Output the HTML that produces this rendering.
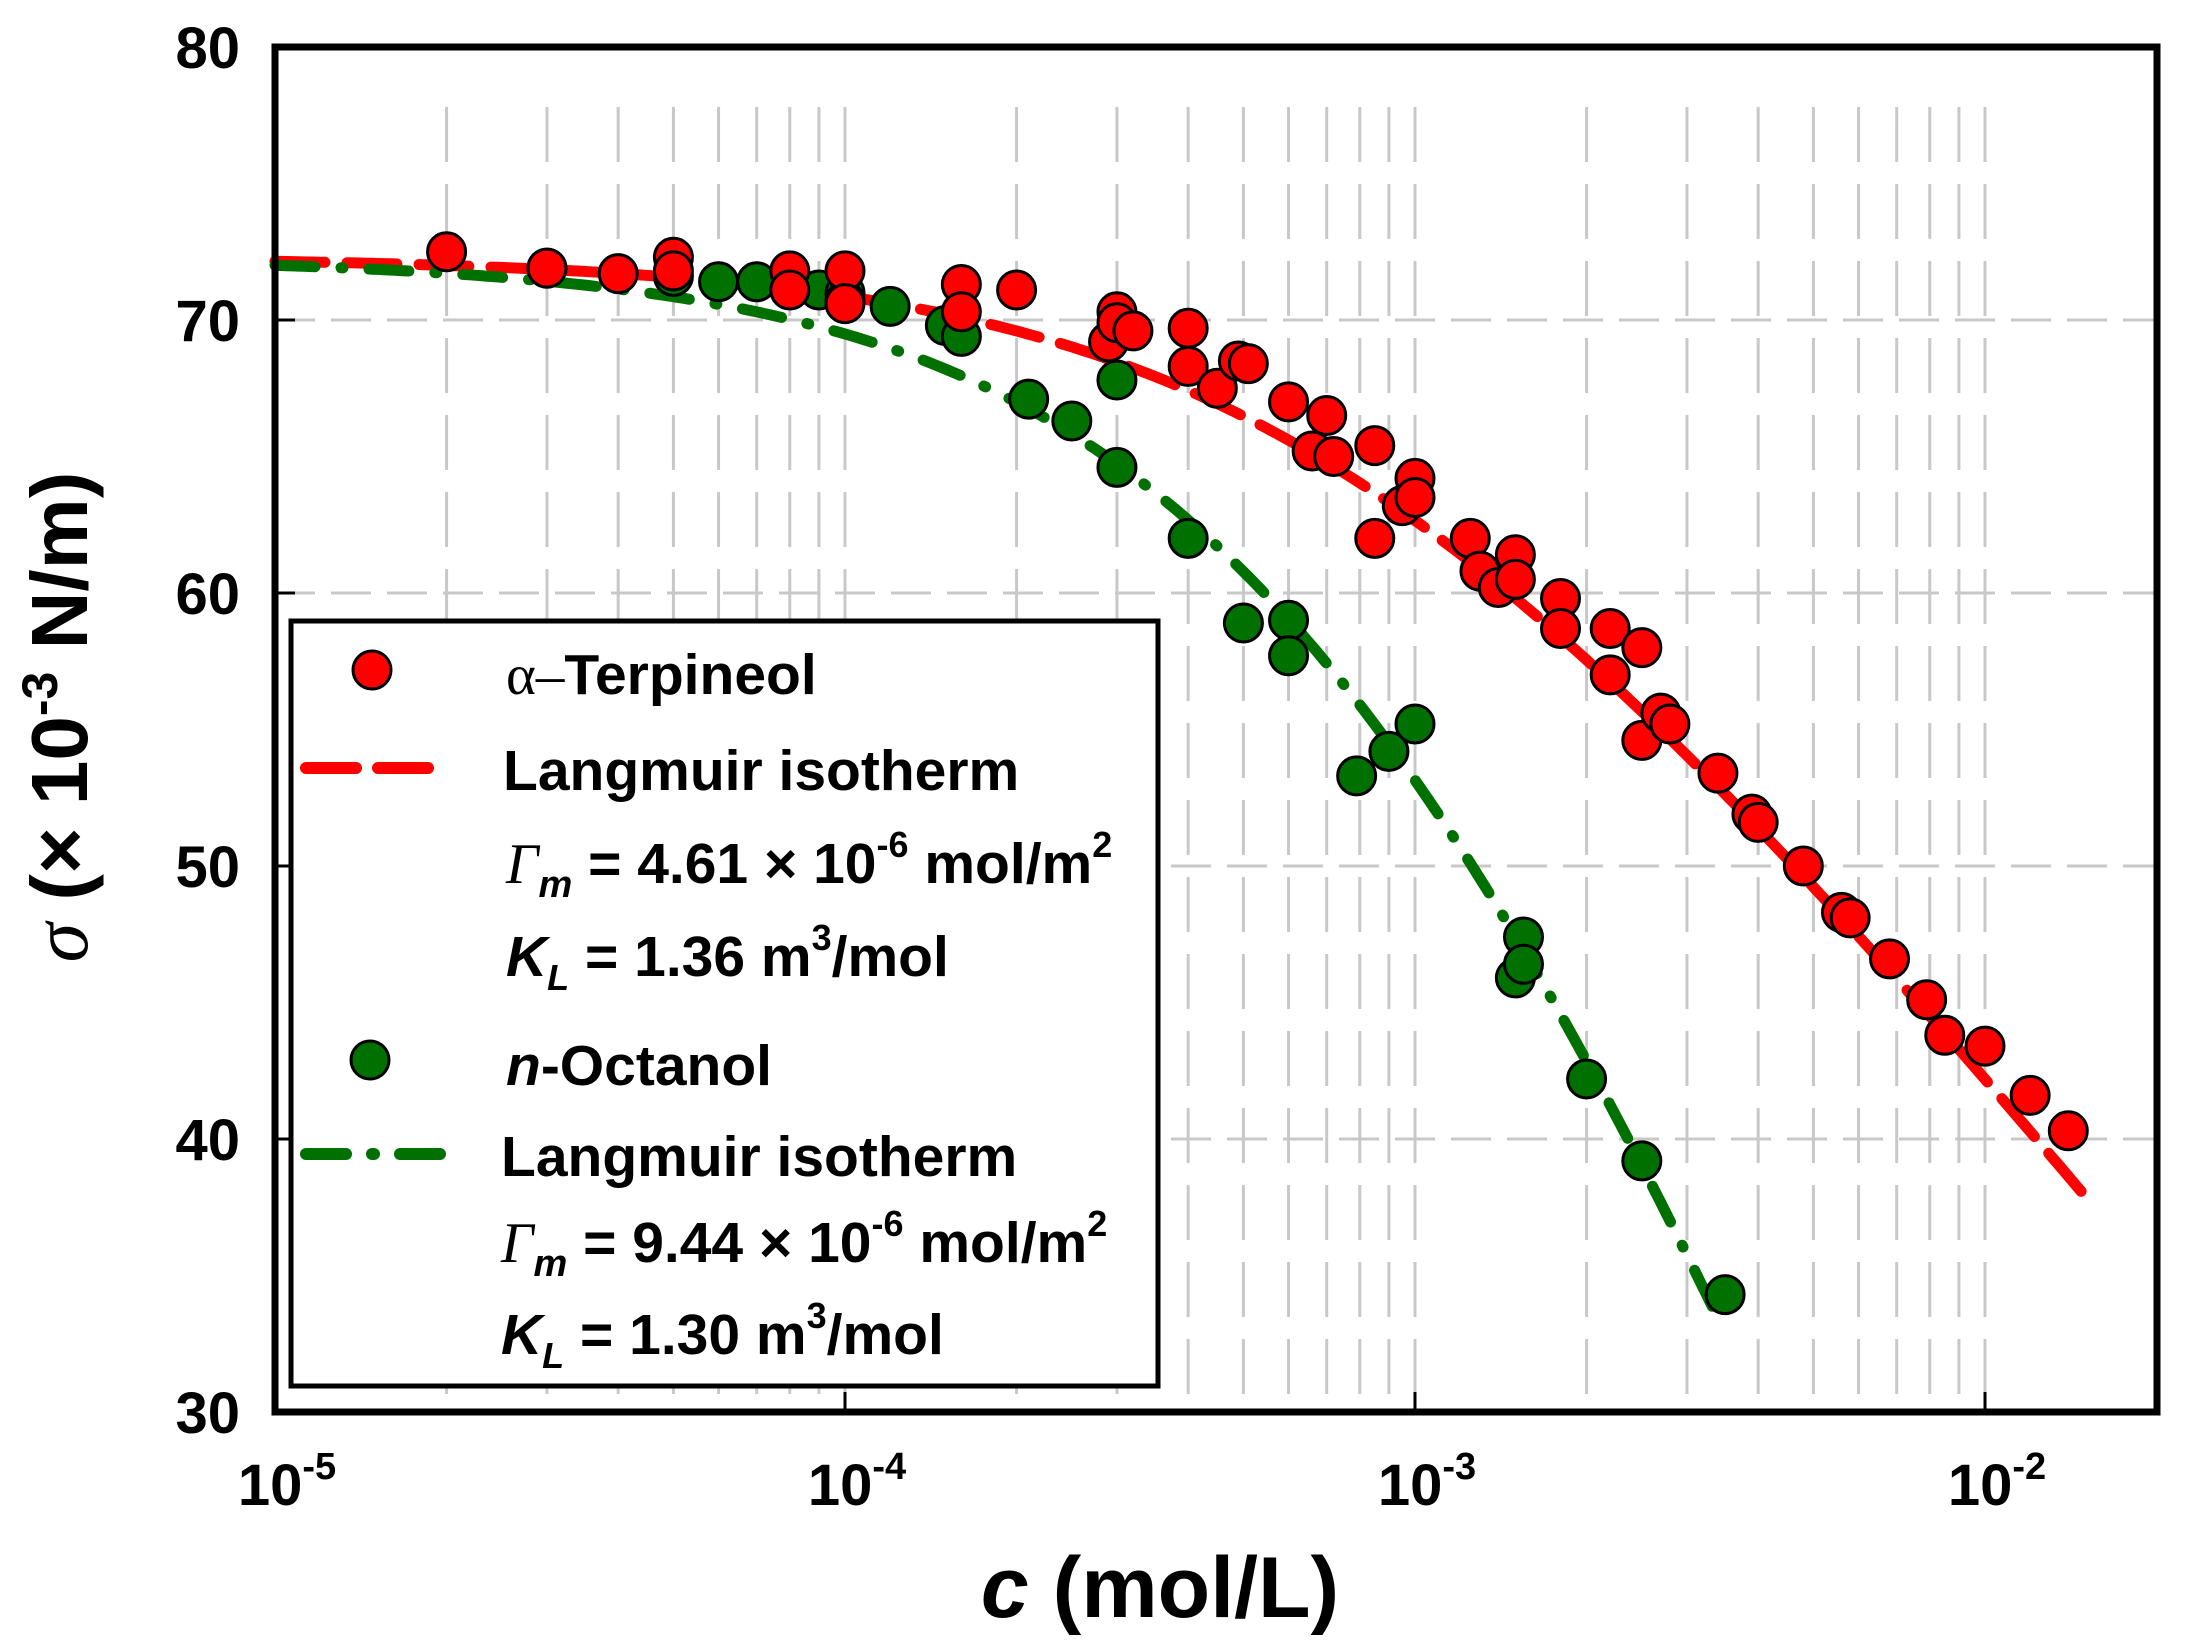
<!DOCTYPE html>
<html><head><meta charset="utf-8"><style>
html,body{margin:0;padding:0;background:#fff}
svg{display:block}
text{font-family:"Liberation Sans",sans-serif;font-weight:bold;fill:#000}
</style></head><body>
<svg id="chart" width="2192" height="1644" viewBox="0 0 2192 1644">
<g id="grid"></g>
<g id="curves"></g>
<g id="points"></g>
<rect x="275" y="47" width="1882" height="1365" fill="none" stroke="#000" stroke-width="7"/>
<g id="ticks"></g>
<text x="87" y="717" font-size="80" text-anchor="middle" transform="rotate(-90 87 717)"><tspan font-style="italic" font-weight="normal" font-family="Liberation Serif, serif">σ</tspan>  (× 10<tspan dy="-30" font-size="50">-3</tspan><tspan dy="30"> N/m)</tspan></text>
<text x="1160" y="1617" font-size="86" text-anchor="middle"><tspan font-style="italic">c</tspan>  (mol/L)</text>
<g>
<rect x="291" y="621" width="867" height="765" fill="#fff" stroke="#000" stroke-width="5"/>
<circle cx="372" cy="670" r="19" fill="#f00" stroke="#000" stroke-width="3"/>
<text x="506" y="694" font-size="57"><tspan font-weight="normal" font-family="Liberation Serif, serif">α–</tspan>Terpineol</text>
<line x1="306" y1="768" x2="448" y2="768" stroke="#f00" stroke-width="12" stroke-dasharray="50,22" stroke-linecap="round"/>
<text x="503" y="790" font-size="57">Langmuir isotherm</text>
<text x="506" y="883" font-size="57"><tspan font-style="italic" font-weight="normal" font-family="Liberation Serif, serif">Γ</tspan><tspan font-style="italic" font-size="38" dy="14">m</tspan><tspan dy="-14"> = 4.61 × 10</tspan><tspan font-size="36" dy="-26">-6</tspan><tspan dy="26"> mol/m</tspan><tspan font-size="36" dy="-26">2</tspan></text>
<text x="506" y="976" font-size="57"><tspan font-style="italic">K</tspan><tspan font-style="italic" font-size="36" dy="14">L</tspan><tspan dy="-14"> = 1.36 m</tspan><tspan font-size="36" dy="-26">3</tspan><tspan dy="26">/mol</tspan></text>
<circle cx="370" cy="1060" r="19" fill="#007000" stroke="#000" stroke-width="3"/>
<text x="506" y="1085" font-size="57"><tspan font-style="italic">n</tspan>-Octanol</text>
<line x1="306" y1="1154" x2="452" y2="1154" stroke="#007000" stroke-width="12" stroke-dasharray="40,26,2,26" stroke-linecap="round"/>
<text x="501" y="1176" font-size="57">Langmuir isotherm</text>
<text x="501" y="1262" font-size="57"><tspan font-style="italic" font-weight="normal" font-family="Liberation Serif, serif">Γ</tspan><tspan font-style="italic" font-size="38" dy="14">m</tspan><tspan dy="-14"> = 9.44 × 10</tspan><tspan font-size="36" dy="-26">-6</tspan><tspan dy="26"> mol/m</tspan><tspan font-size="36" dy="-26">2</tspan></text>
<text x="501" y="1354" font-size="57"><tspan font-style="italic">K</tspan><tspan font-style="italic" font-size="36" dy="14">L</tspan><tspan dy="-14"> = 1.30 m</tspan><tspan font-size="36" dy="-26">3</tspan><tspan dy="26">/mol</tspan></text>
</g>
</svg>
<script>
const terpC=[2e-5,3e-5,4e-5,5e-5,5e-5,8e-5,8e-5,1e-4,1e-4,1.6e-4,1.6e-4,2e-4,2.9e-4,3e-4,3e-4,3.2e-4,4e-4,4e-4,4.5e-4,4.9e-4,5.1e-4,6e-4,6.6e-4,7e-4,7.2e-4,8.5e-4,8.5e-4,9.5e-4,1e-3,1e-3,1.25e-3,1.3e-3,1.4e-3,1.5e-3,1.5e-3,1.8e-3,1.8e-3,2.2e-3,2.2e-3,2.5e-3,2.5e-3,2.7e-3,2.8e-3,3.4e-3,3.9e-3,4e-3,4.8e-3,5.6e-3,5.8e-3,6.8e-3,7.9e-3,8.5e-3,1e-2,1.2e-2,1.4e-2];
const terpS=[72.5,71.9,71.7,72.3,71.8,71.8,71.1,71.8,70.6,71.3,70.3,71.1,69.2,70.3,69.9,69.6,69.7,68.3,67.5,68.5,68.4,67.0,65.2,66.5,65.0,65.4,62.0,63.2,64.2,63.5,62.0,60.8,60.2,61.4,60.5,59.8,58.7,58.7,57.0,58.0,54.6,55.6,55.2,53.4,51.9,51.6,50.0,48.3,48.1,46.6,45.1,43.8,43.4,41.6,40.3];
const octC=[3e-5,5e-5,6e-5,7e-5,9e-5,1e-4,1e-4,1.2e-4,1.5e-4,1.6e-4,2.1e-4,2.5e-4,3e-4,3e-4,4e-4,5e-4,6e-4,6e-4,7.9e-4,9e-4,1e-3,1.5e-3,1.55e-3,1.55e-3,2e-3,2.5e-3,3.5e-3];
const octS=[71.9,71.6,71.4,71.4,71.1,71.0,70.7,70.5,69.8,69.4,67.1,66.3,67.8,64.6,62.0,58.9,59.0,57.7,53.3,54.2,55.2,45.9,47.4,46.4,42.2,39.2,34.3];
const fitGamma=[4.61e-6,9.44e-6];
const fitK=[1.36,1.30];
const fitEnd=[0.015,0.0035];
const yTicks=[30,40,50,60,70,80];
const xDecades=[-5,-4,-3,-2];
const NS='http://www.w3.org/2000/svg';
const X0=275,X1=2157,Y0=47,Y1=1412,DEC=570;
const xs=c=>X0+(Math.log10(c)+5)*DEC;
const ys=v=>Y1-(v-30)*(Y1-Y0)/50;
function mk(tag,attrs,parent){const e=document.createElementNS(NS,tag);for(const k in attrs)e.setAttribute(k,attrs[k]);parent.appendChild(e);return e;}
const grid=document.getElementById('grid'),ticks=document.getElementById('ticks');
for(const d of xDecades){for(let m=1;m<10;m++){const c=m*Math.pow(10,d);const x=xs(c);if(x<=X0+2||x>=X1-2)continue;
 const l=mk('line',{x1:x,y1:Y0+60,x2:x,y2:Y1,stroke:'#c8c8c8','stroke-width':3,'stroke-dasharray':'55,22'},grid);
 
 
 if(m===1){const t=mk('line',{x1:x,y1:Y1,x2:x,y2:Y1-20,stroke:'#000','stroke-width':3},ticks);
 
 }}
 const lab=mk('text',{x:xs(Math.pow(10,d))+12,y:1505,'font-size':58,'text-anchor':'middle'},ticks);
 
 
 lab.innerHTML='10<tspan font-size="38" dy="-26">'+d+'</tspan>';}
for(const v of yTicks){const y=ys(v);
 if(v>30&&v<80){const l=mk('line',{x1:X0,y1:y,x2:X1,y2:y,stroke:'#c8c8c8','stroke-width':3,'stroke-dasharray':'40,16'},grid);
 
 
 const t=mk('line',{x1:X0,y1:y,x2:X0+20,y2:y,stroke:'#000','stroke-width':3},ticks);
 
 }
 const lab=mk('text',{x:240,y:y+21,'font-size':58,'text-anchor':'end'},ticks);
 
 
 lab.textContent=v;}
const curves=document.getElementById('curves');
const RT=8.314*293;
const colors=['#f00','#007000'],dashes=['50,22','40,26,2,26'];
for(let i=0;i<2;i++){let pts=[];for(let lc=-5;lc<=Math.log10(fitEnd[i])+1e-9;lc+=0.01){const c=Math.pow(10,lc);
 const s=72.3-RT*fitGamma[i]*1000*Math.log(1+fitK[i]*c*1000);pts.push(xs(c).toFixed(1)+','+ys(s).toFixed(1));}
 const p=mk('polyline',{points:pts.join(' '),fill:'none',stroke:colors[i],'stroke-width':11,'stroke-dasharray':dashes[i],'stroke-linecap':'round'},curves);
 
 }
const pg=document.getElementById('points');
function plot(C,S,fill,name){for(let i=0;i<C.length;i++){const c=mk('circle',{cx:xs(C[i]),cy:ys(S[i]),r:19,fill:fill,stroke:'#000','stroke-width':3},pg);
 
 }}
plot(octC,octS,'#007000','octanol-point');
plot(terpC,terpS,'#f00','terpineol-point');
</script>
</body></html>
